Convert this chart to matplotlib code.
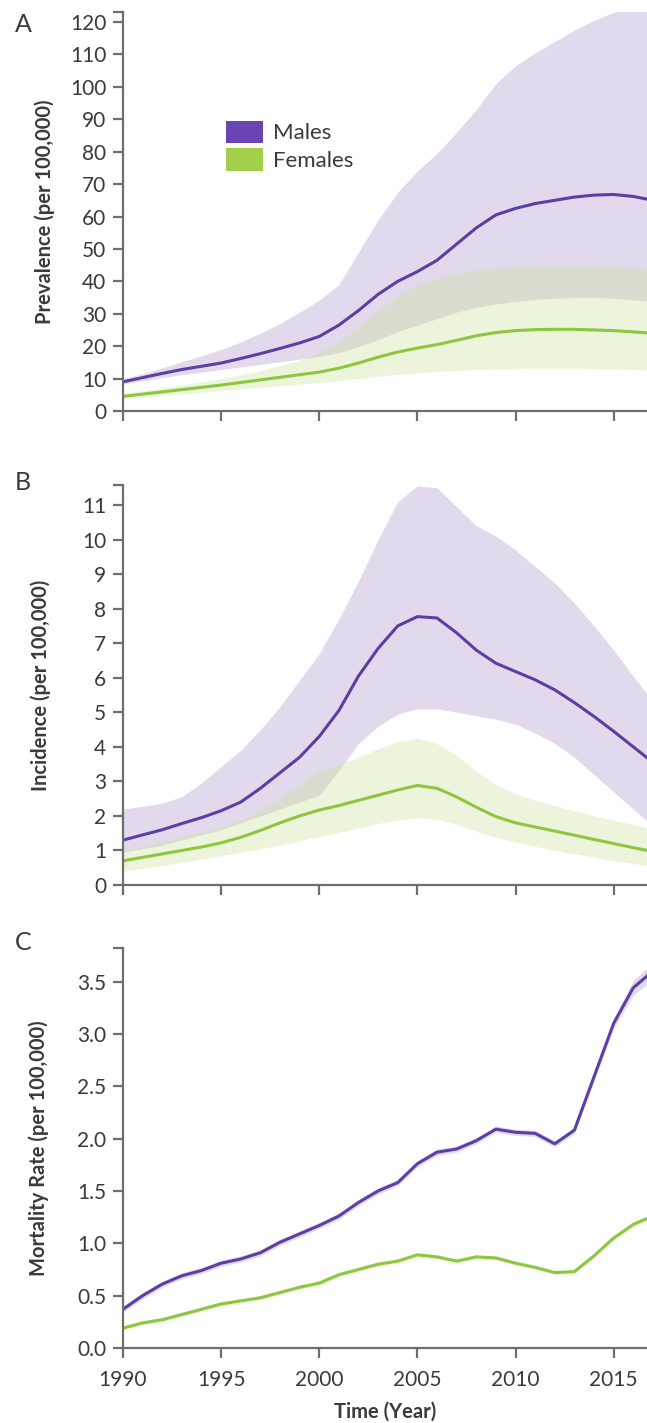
import matplotlib
import matplotlib.pyplot as plt
from matplotlib.patches import Patch

matplotlib.use("Agg")

# ---------------------------------------------------------------------------
# Data
# ---------------------------------------------------------------------------
years = list(range(1990, 2018))
xticks = [1990, 1995, 2000, 2005, 2010, 2015]

# A: prevalence (per 100,000)
prev_m = [9.0, 10.3, 11.6, 12.8, 13.8, 14.8, 16.2, 17.7, 19.3, 21.0, 23.0, 26.5, 31.0, 36.0,
          40.0, 43.0, 46.5, 51.5, 56.5, 60.5, 62.5, 64.0, 65.0, 66.0, 66.6, 66.8, 66.2, 65.0]
prev_m_hi = [10.0, 11.5, 13.3, 15.2, 17.0, 19.0, 21.3, 24.0, 27.0, 30.5, 34.2, 39.0, 49.0, 59.0,
             67.5, 74.0, 79.5, 86.0, 93.0, 101.0, 106.5, 110.5, 114.0, 117.5, 120.5, 123.0, 125.0, 126.0]
prev_m_lo = [8.3, 9.3, 10.3, 11.2, 12.0, 12.8, 13.6, 14.4, 15.2, 16.0, 16.8, 18.0, 19.8, 22.0,
             24.5, 26.5, 28.5, 30.5, 32.0, 33.0, 33.8, 34.4, 34.8, 35.0, 35.0, 34.8, 34.3, 33.8]
prev_f = [4.5, 5.2, 5.9, 6.6, 7.3, 8.0, 8.8, 9.6, 10.4, 11.2, 12.0, 13.2, 14.8, 16.6,
          18.2, 19.4, 20.5, 21.8, 23.2, 24.2, 24.8, 25.1, 25.2, 25.2, 25.0, 24.8, 24.4, 24.0]
prev_f_hi = [5.5, 6.3, 7.2, 8.1, 9.0, 10.0, 11.2, 12.5, 14.0, 15.8, 18.0, 21.5, 26.0, 31.0,
             35.5, 39.0, 41.0, 42.5, 43.5, 44.0, 44.5, 44.8, 45.0, 45.0, 44.8, 44.5, 44.0, 43.5]
prev_f_lo = [3.8, 4.3, 4.8, 5.3, 5.8, 6.3, 6.8, 7.3, 7.8, 8.3, 8.8, 9.4, 10.0, 10.7,
             11.3, 11.8, 12.2, 12.5, 12.8, 13.0, 13.1, 13.2, 13.2, 13.2, 13.1, 13.0, 12.8, 12.6]

# B: incidence (per 100,000)
inc_m = [1.3, 1.45, 1.6, 1.78, 1.95, 2.15, 2.4, 2.8, 3.25, 3.7, 4.3, 5.05, 6.05, 6.85,
         7.5, 7.77, 7.73, 7.3, 6.8, 6.42, 6.18, 5.94, 5.65, 5.28, 4.88, 4.45, 4.0, 3.55]
inc_m_hi = [2.2, 2.28, 2.37, 2.56, 2.95, 3.43, 3.9, 4.5, 5.16, 5.93, 6.7, 7.7, 8.8, 10.0,
            11.1, 11.55, 11.5, 10.95, 10.4, 10.1, 9.7, 9.22, 8.74, 8.16, 7.5, 6.8, 6.05, 5.3]
inc_m_lo = [0.95, 1.05, 1.15, 1.3, 1.45, 1.6, 1.8, 2.0, 2.2, 2.4, 2.6, 3.3, 4.1, 4.6,
            4.95, 5.1, 5.1, 5.0, 4.9, 4.8, 4.65, 4.4, 4.1, 3.7, 3.2, 2.7, 2.2, 1.7]
inc_f = [0.7, 0.8, 0.9, 1.0, 1.1, 1.22, 1.38, 1.58, 1.8, 2.0, 2.17, 2.3, 2.45, 2.6,
         2.75, 2.88, 2.8, 2.55, 2.25, 1.98, 1.8, 1.68, 1.56, 1.44, 1.32, 1.2, 1.08, 0.97]
inc_f_hi = [0.98, 1.1, 1.25, 1.4, 1.55, 1.7, 1.9, 2.15, 2.5, 2.9, 3.3, 3.5, 3.7, 3.95,
            4.15, 4.25, 4.1, 3.75, 3.3, 2.9, 2.65, 2.45, 2.3, 2.15, 2.0, 1.88, 1.75, 1.62]
inc_f_lo = [0.4, 0.48, 0.56, 0.65, 0.75, 0.85, 0.95, 1.05, 1.15, 1.28, 1.4, 1.52, 1.65, 1.78,
            1.88, 1.95, 1.9, 1.75, 1.55, 1.38, 1.25, 1.12, 1.0, 0.9, 0.8, 0.7, 0.62, 0.55]

# C: mortality rate (per 100,000)
mort_m = [0.37, 0.5, 0.61, 0.69, 0.74, 0.81, 0.85, 0.91, 1.01, 1.09, 1.17, 1.26, 1.39, 1.5,
          1.58, 1.76, 1.87, 1.9, 1.98, 2.09, 2.06, 2.05, 1.95, 2.08, 2.59, 3.1, 3.44, 3.6]
mort_m_hi = [0.40, 0.53, 0.64, 0.72, 0.77, 0.84, 0.88, 0.94, 1.04, 1.12, 1.2, 1.29, 1.42, 1.53,
             1.61, 1.79, 1.9, 1.93, 2.01, 2.12, 2.09, 2.08, 1.98, 2.11, 2.63, 3.15, 3.51, 3.68]
mort_m_lo = [0.34, 0.47, 0.58, 0.66, 0.71, 0.78, 0.82, 0.88, 0.98, 1.06, 1.14, 1.23, 1.36, 1.47,
             1.55, 1.73, 1.84, 1.87, 1.95, 2.06, 2.03, 2.02, 1.92, 2.05, 2.55, 3.05, 3.37, 3.52]
mort_f = [0.19, 0.24, 0.27, 0.32, 0.37, 0.42, 0.45, 0.48, 0.53, 0.58, 0.62, 0.70, 0.75, 0.8,
          0.83, 0.89, 0.87, 0.83, 0.87, 0.86, 0.81, 0.77, 0.72, 0.73, 0.88, 1.05, 1.18, 1.26]
mort_f_hi = [0.21, 0.26, 0.29, 0.34, 0.39, 0.44, 0.47, 0.5, 0.55, 0.6, 0.64, 0.72, 0.77, 0.82,
             0.85, 0.91, 0.89, 0.85, 0.89, 0.88, 0.83, 0.79, 0.74, 0.75, 0.9, 1.07, 1.21, 1.29]
mort_f_lo = [0.17, 0.22, 0.25, 0.3, 0.35, 0.4, 0.43, 0.46, 0.51, 0.56, 0.6, 0.68, 0.73, 0.78,
             0.81, 0.87, 0.85, 0.81, 0.85, 0.84, 0.79, 0.75, 0.7, 0.71, 0.86, 1.03, 1.15, 1.23]

# ---------------------------------------------------------------------------
# Styling
# ---------------------------------------------------------------------------
MALE = "#5B3FA3"
MALE_BAND = "#AF92CE"
FEMALE = "#8DC63F"
FEMALE_BAND = "#CEE29B"
AXIS = "#6E6E6E"
TEXT = "#3A3A3A"

plt.rcParams["font.family"] = ["Lato", "DejaVu Sans"]

fig = plt.figure(figsize=(6.47, 14.23), dpi=100)
W, H = 647, 1423
left = 123 / W

# (bottom px, top px, tag centre px) for each panel in the reference picture
panel_px = [(411, 12, 25), (885, 485, 482), (1348, 948, 943)]

panels = [
    dict(m=prev_m, mhi=prev_m_hi, mlo=prev_m_lo, f=prev_f, fhi=prev_f_hi, flo=prev_f_lo,
         top=123.1, ticks=list(range(0, 121, 10)), fmt="{:d}",
         ylabel="Prevalence (per 100,000)", tag="A", labx=-0.130),
    dict(m=inc_m, mhi=inc_m_hi, mlo=inc_m_lo, f=inc_f, fhi=inc_f_hi, flo=inc_f_lo,
         top=11.58, ticks=list(range(0, 12)), fmt="{:d}",
         ylabel="Incidence (per 100,000)", tag="B", labx=-0.137),
    dict(m=mort_m, mhi=mort_m_hi, mlo=mort_m_lo, f=mort_f, fhi=mort_f_hi, flo=mort_f_lo,
         top=3.82, ticks=[0.0, 0.5, 1.0, 1.5, 2.0, 2.5, 3.0, 3.5], fmt="{:.1f}",
         ylabel="Mortality Rate (per 100,000)", tag="C", labx=-0.141),
]

axes = []
for p, (pb, pt, tagy) in zip(panels, panel_px):
    ax = fig.add_axes([left, 1 - pb / H, 1 - left, (pb - pt) / H])
    axes.append(ax)

    ax.fill_between(years, p["mlo"], p["mhi"], color=MALE_BAND, alpha=0.35, lw=0)
    ax.fill_between(years, p["flo"], p["fhi"], color=FEMALE_BAND, alpha=0.35, lw=0)
    ax.plot(years, p["m"], color=MALE, lw=2.2, solid_capstyle="round")
    ax.plot(years, p["f"], color=FEMALE, lw=2.2, solid_capstyle="round")

    ax.set_xlim(1990, 2016.7)
    ax.set_ylim(0, p["top"])
    ax.set_xticks(xticks)
    ax.set_yticks(p["ticks"])
    ax.set_yticklabels([p["fmt"].format(t) for t in p["ticks"]])
    ax.set_yticks([p["top"]], minor=True)

    for side in ("top", "right"):
        ax.spines[side].set_visible(False)
    for side in ("left", "bottom"):
        ax.spines[side].set_color(AXIS)
        ax.spines[side].set_linewidth(1.6)

    ax.tick_params(axis="both", which="both", direction="out", length=7, width=1.6,
                   color=AXIS, labelsize=15, labelcolor=TEXT, pad=5)
    ax.tick_params(axis="x", pad=9)

    ax.set_ylabel(p["ylabel"], fontsize=14.5, fontweight="bold", color=TEXT)
    ax.yaxis.set_label_coords(p["labx"], 0.5)

    fig.text(23 / W, 1 - tagy / H, p["tag"], fontsize=18, color=TEXT,
             ha="center", va="center")

axes[0].tick_params(axis="x", labelbottom=False)
axes[1].tick_params(axis="x", labelbottom=False)
axes[2].set_xlabel("Time (Year)", fontsize=14.5, fontweight="bold", color=TEXT, labelpad=8)

handles = [Patch(facecolor="#6B44B3", edgecolor="none", label="Males"),
           Patch(facecolor="#A4CF4A", edgecolor="none", label="Females")]
axes[0].legend(handles=handles, loc="upper left", bbox_to_anchor=(0.197, 0.728),
               frameon=False, fontsize=16, handlelength=1.67, handleheight=1.2,
               handletextpad=0.45, labelspacing=0.22, borderpad=0, borderaxespad=0,
               labelcolor=TEXT)

plt.savefig("out.png", dpi=100)
plt.close(fig)
